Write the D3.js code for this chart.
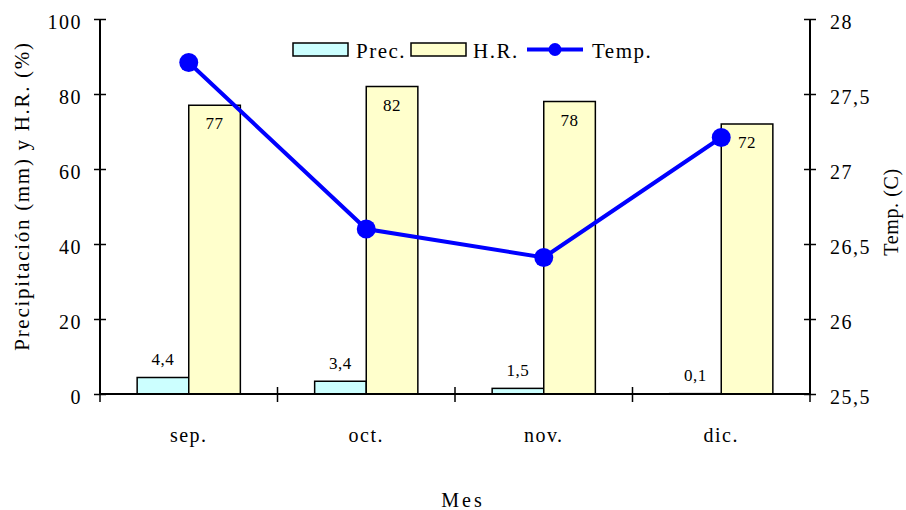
<!DOCTYPE html>
<html>
<head>
<meta charset="utf-8">
<script src="https://cdn.jsdelivr.net/npm/d3@7"></script>
<style>
  body { margin: 0; background: #fff; }
</style>
</head>
<body>
<svg class="chart"></svg>
<script>
// data
const months = ['sep.', 'oct.', 'nov.', 'dic.'];
const prec = [4.4, 3.4, 1.5, 0.1];
const hr = [77, 82, 78, 72];
const temp = [27.71, 26.6, 26.41, 27.21];
const leftTicks = [0, 20, 40, 60, 80, 100];
const rightTicks = [25.5, 26, 26.5, 27, 27.5, 28];

const width = 906;
const height = 510;
const svg = d3.select('.chart').attr('width', width).attr('height', height)
    .attr('font-family', "'Liberation Serif', 'DejaVu Serif', serif");

const plotL = 100, plotR = 810, plotT = 19, plotB = 394;

const x0 = d3.scaleBand().domain(months).range([plotL, plotR]).padding(0);
const x1 = d3.scaleBand().domain(['prec', 'hr']).range([0, x0.bandwidth()])
    .paddingInner(0).paddingOuter(0.72);
const yL = d3.scaleLinear().domain([0, 100]).range([plotB, plotT]);
const yR = d3.scaleLinear().domain([25.5, 28]).range([plotB, plotT]);

const comma = d => String(d).replace('.', ',');

// bars
const groups = svg.append('g').selectAll('g')
    .data(months)
    .join('g')
    .attr('transform', d => `translate(${x0(d)},0)`);

groups.append('rect')
    .attr('x', x1('prec'))
    .attr('y', (d, i) => yL(prec[i]))
    .attr('width', x1.bandwidth())
    .attr('height', (d, i) => plotB - yL(prec[i]))
    .attr('fill', '#ccffff').attr('stroke', '#000').attr('stroke-width', 1.5);

groups.append('rect')
    .attr('x', x1('hr'))
    .attr('y', (d, i) => yL(hr[i]))
    .attr('width', x1.bandwidth())
    .attr('height', (d, i) => plotB - yL(hr[i]))
    .attr('fill', '#ffffcc').attr('stroke', '#000').attr('stroke-width', 1.5);

// data labels
groups.append('text')
    .attr('x', x1('prec') + x1.bandwidth() / 2)
    .attr('y', (d, i) => yL(prec[i]) - 12.5)
    .attr('text-anchor', 'middle')
    .attr('font-size', 17).attr('letter-spacing', 0.5)
    .text((d, i) => comma(prec[i]));

groups.append('text')
    .attr('x', x1('hr') + x1.bandwidth() / 2)
    .attr('y', (d, i) => yL(hr[i]) + 24)
    .attr('text-anchor', 'middle')
    .attr('font-size', 17).attr('letter-spacing', 0.5)
    .text((d, i) => hr[i]);

// axes
const axisL = svg.append('g').attr('transform', `translate(${plotL},0)`)
    .call(d3.axisLeft(yL).tickValues(leftTicks).tickSize(6).tickPadding(12));
const axisR = svg.append('g').attr('transform', `translate(${plotR},0)`)
    .call(d3.axisRight(yR).tickValues(rightTicks).tickSize(6).tickPadding(14).tickFormat(comma));
[axisL, axisR].forEach(a => {
  a.attr('font-family', null).attr('font-size', 20);
  a.select('.domain').attr('stroke-width', 2).attr('d', `M0,${plotT}V${plotB}`);
  a.selectAll('.tick line').attr('x1', -6).attr('x2', 6).attr('stroke-width', 1.5);
  a.selectAll('.tick text').attr('letter-spacing', 1.5).attr('dy', '0.45em');
});

// bottom axis with ticks between categories
const bounds = months.map(m => x0(m)).concat([plotR]);
const axisB = svg.append('g');
axisB.append('line').attr('x1', plotL).attr('x2', plotR).attr('y1', plotB).attr('y2', plotB)
    .attr('stroke', '#000').attr('stroke-width', 2);
axisB.selectAll('.btick').data(bounds).join('line')
    .attr('x1', d => d).attr('x2', d => d)
    .attr('y1', plotB - 7).attr('y2', plotB + 8)
    .attr('stroke', '#000').attr('stroke-width', 1.5);
axisB.selectAll('.blabel').data(months).join('text')
    .attr('x', d => x0(d) + x0.bandwidth() / 2)
    .attr('y', 442)
    .attr('text-anchor', 'middle')
    .attr('font-size', 20).attr('letter-spacing', 1.5)
    .text(d => d);

// temperature line
const line = d3.line()
    .x((d, i) => x0(months[i]) + x0.bandwidth() / 2)
    .y(d => yR(d));
svg.append('path').datum(temp)
    .attr('d', line)
    .attr('fill', 'none').attr('stroke', '#0000ff').attr('stroke-width', 4);
svg.append('g').selectAll('circle').data(temp).join('circle')
    .attr('cx', (d, i) => x0(months[i]) + x0.bandwidth() / 2)
    .attr('cy', d => yR(d))
    .attr('r', 9.5)
    .attr('fill', '#0000ff');

// titles
svg.append('text')
    .attr('transform', 'translate(29,196) rotate(-90)')
    .attr('text-anchor', 'middle')
    .attr('font-size', 21).attr('letter-spacing', 1.7)
    .text('Precipitación (mm) y H.R. (%)');
svg.append('text')
    .attr('transform', 'translate(898,212) rotate(-90)')
    .attr('text-anchor', 'middle')
    .attr('font-size', 20).attr('letter-spacing', 0.6)
    .text('Temp. (C)');
svg.append('text')
    .attr('x', 463).attr('y', 507)
    .attr('text-anchor', 'middle')
    .attr('font-size', 20).attr('letter-spacing', 3)
    .text('Mes');

// legend
const legend = svg.append('g').attr('font-size', 21);
const legendY = 58;
legend.append('rect').attr('x', 293).attr('y', 43).attr('width', 55).attr('height', 13)
    .attr('fill', '#ccffff').attr('stroke', '#000').attr('stroke-width', 1.5);
legend.append('text').attr('x', 356).attr('y', legendY)
    .attr('letter-spacing', 1.5).text('Prec.');
legend.append('rect').attr('x', 411).attr('y', 43).attr('width', 55).attr('height', 13)
    .attr('fill', '#ffffcc').attr('stroke', '#000').attr('stroke-width', 1.5);
legend.append('text').attr('x', 473).attr('y', legendY)
    .attr('letter-spacing', 1.5).text('H.R.');
legend.append('line').attr('x1', 527).attr('x2', 583).attr('y1', 49.5).attr('y2', 49.5)
    .attr('stroke', '#0000ff').attr('stroke-width', 4);
legend.append('circle').attr('cx', 555).attr('cy', 49.5).attr('r', 6.5).attr('fill', '#0000ff');
legend.append('text').attr('x', 592).attr('y', legendY)
    .attr('letter-spacing', 1.5).text('Temp.');
</script>
</body>
</html>
